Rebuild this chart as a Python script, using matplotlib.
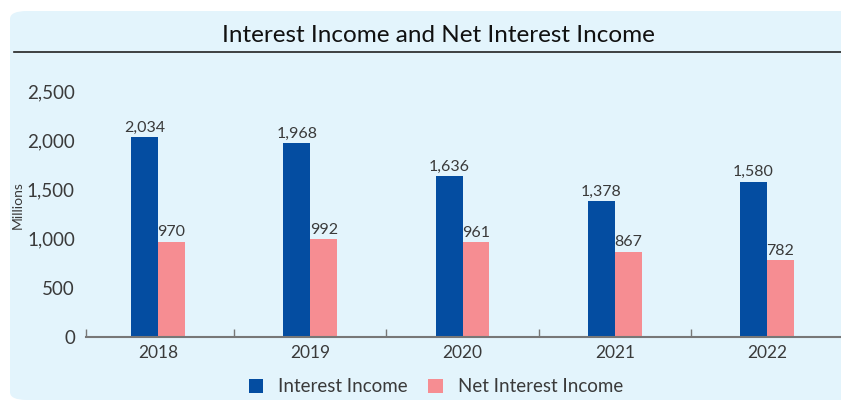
import matplotlib.pyplot as plt
import numpy as np
from matplotlib.patches import FancyBboxPatch
from matplotlib.lines import Line2D

years = ['2018', '2019', '2020', '2021', '2022']
interest_income = [2034, 1968, 1636, 1378, 1580]
net_interest_income = [970, 992, 961, 867, 782]
yticks = [0, 500, 1000, 1500, 2000, 2500]

blue = '#044DA1'
pink = '#F68D92'
panel = '#E3F4FC'
txt = '#3a3a3a'

plt.rcParams['font.family'] = ['Lato', 'DejaVu Sans']

fig = plt.figure(figsize=(8.41, 4.01), dpi=100)
W, H = 841, 401

# rounded light blue panel behind everything
bg = FancyBboxPatch((10 / W, 1 / H), 850 / W, 389 / H,
                    boxstyle='round,pad=0,rounding_size=0.02',
                    transform=fig.transFigure, facecolor=panel,
                    edgecolor='none', zorder=-10)
fig.patches.append(bg)

fig.text(438 / W, 1 - 36 / H, 'Interest Income and Net Interest Income',
         ha='center', va='center', fontsize=17.5, color='#111111')
fig.lines.append(Line2D([14 / W, 1.0], [1 - 52 / H, 1 - 52 / H],
                        transform=fig.transFigure, color='#222222', lw=1.2))

ax = fig.add_axes([86 / W, 1 - 337 / H, 1 - 86 / W, 246 / H])
ax.set_facecolor('none')

x = np.arange(len(years))
w = 0.177
b1 = ax.bar(x - w / 2, interest_income, w, color=blue, label='Interest Income')
b2 = ax.bar(x + w / 2, net_interest_income, w, color=pink, label='Net Interest Income')

for bars, vals in ((b1, interest_income), (b2, net_interest_income)):
    for r, v in zip(bars, vals):
        ax.text(r.get_x() + r.get_width() / 2, v + 25, f'{v:,}',
                ha='center', va='bottom', fontsize=11.5, color=txt)

ax.set_xlim(-0.473, 4.486)
ax.set_ylim(0, 2500)
ax.set_yticks(yticks)
ax.set_yticklabels([f'{v:,}' for v in yticks])
ax.tick_params(axis='y', length=0, pad=8, labelsize=13.5, labelcolor=txt)
ax.set_xticks(x)
ax.set_xticklabels(years)
ax.tick_params(axis='x', which='major', length=0, pad=6, labelsize=12.5,
               labelcolor=txt)
ax.set_xticks([-0.473, 0.5, 1.5, 2.5, 3.5], minor=True)
ax.tick_params(axis='x', which='minor', direction='in', length=6,
               width=1, color='#777777')

for s in ('top', 'right', 'left'):
    ax.spines[s].set_visible(False)
ax.spines['bottom'].set_color('#777777')
ax.spines['bottom'].set_linewidth(1.5)

fig.text(18 / W, 1 - 205 / H, 'Millions', rotation=90, ha='center',
         va='center', fontsize=10, color=txt)

fig.legend(handles=[b1, b2], loc='center', bbox_to_anchor=(436 / W, 1 - 387 / H),
           ncol=2, frameon=False, fontsize=13.5, handlelength=0.75,
           handleheight=0.75, handletextpad=0.8, columnspacing=1.1,
           labelcolor=txt)

fig.savefig('out.png', dpi=100)
